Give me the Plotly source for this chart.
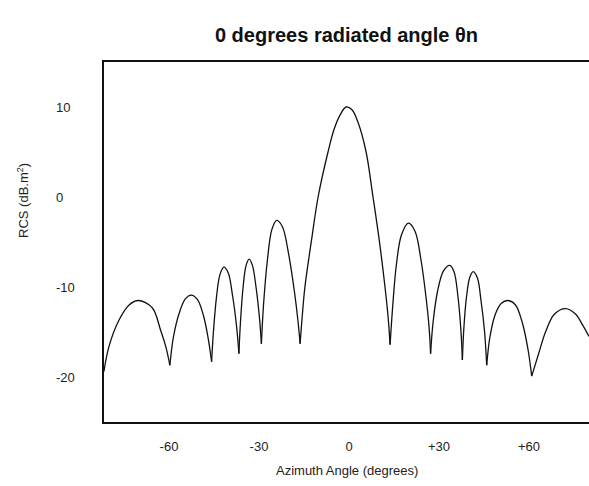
import plotly.graph_objects as go

# ---- data ----
angle_deg = [
    -81.7, -80.0, -76.7, -73.3, -70.2, -65.6, -62.8, -61.1, -59.7,
    -58.5, -56.5, -54.5, -52.6, -50.5, -48.5, -47.0, -45.8,
    -45.2, -44.2, -43.0, -41.7, -40.3, -38.8, -37.5, -36.7,
    -36.2, -35.3, -34.3, -33.3, -32.2, -31.0, -29.8, -29.2,
    -28.5, -27.2, -25.7, -24.1, -22.2, -20.2, -18.2, -17.0, -16.3,
    -15.6, -14.7, -12.5, -10.3, -7.0, -5.0, -3.0, -1.0, 1.0, 3.0, 5.7, 8.0, 10.0, 12.0, 13.0, 13.7,
    14.6, 15.8, 17.5, 19.8, 22.0, 24.0, 25.8, 26.7, 27.2,
    28.0, 29.5, 31.5, 33.6, 35.0, 36.3, 37.3, 37.8,
    38.3, 39.2, 40.3, 41.4, 42.8, 44.0, 45.2, 45.9,
    47.0, 48.8, 50.8, 53.0, 55.5, 57.8, 59.7, 60.9,
    63.3, 65.5, 68.5, 72.2, 75.5, 78.0, 80.0,
]
rcs_db = [
    -19.4, -16.6, -13.7, -12.0, -11.5, -12.3, -14.8, -16.6, -18.7,
    -15.5, -12.8, -11.3, -10.9, -11.4, -13.2, -15.6, -18.3,
    -15.0, -11.2, -8.6, -7.8, -8.4, -11.0, -14.3, -17.4,
    -14.0, -10.0, -7.6, -6.9, -7.6, -10.0, -13.6, -16.3,
    -12.0, -7.0, -3.6, -2.6, -3.3, -6.2, -10.5, -13.8, -16.3,
    -13.3, -10.0, -4.8, 0.0, 5.0, 7.5, 9.1, 10.0, 9.7, 8.3, 5.0, 0.0, -4.6, -10.0, -13.2, -16.4,
    -12.0, -7.5, -4.2, -2.9, -3.8, -7.0, -11.5, -14.5, -17.4,
    -14.0, -10.5, -8.2, -7.6, -8.3, -11.0, -14.8, -18.1,
    -14.5, -11.0, -8.9, -8.3, -9.0, -11.5, -15.0, -18.7,
    -15.5, -13.0, -11.8, -11.5, -12.0, -14.0, -17.0, -19.9,
    -17.3, -15.0, -13.0, -12.4, -13.0, -14.3, -15.5,
]
null_angles = [-59.7, -45.8, -36.7, -29.2, -16.3, 13.7, 27.2, 37.8, 45.9, 60.9]

x_tickvals = [-60, -30, 0, 30, 60]
x_ticktext = ["-60", "-30", "0", "+30", "+60"]
y_tickvals = [10, 0, -10, -20]
y_ticktext = ["10", "0", "-10", "-20"]

# split the curve into lobes at the nulls (cusps), each lobe smoothed separately
xs, ys = [], []
for a, r in zip(angle_deg, rcs_db):
    xs.append(a)
    ys.append(r)
    if a in null_angles:
        xs.extend([None, a])
        ys.extend([None, r])

FONT = "Liberation Sans, Arial, sans-serif"

fig = go.Figure()
fig.add_trace(go.Scatter(
    x=xs, y=ys, mode="lines",
    line=dict(color="#111111", width=1.3, shape="spline", smoothing=1.0),
    connectgaps=False, showlegend=False, hoverinfo="skip",
))

annotations = []
for v, t in zip(y_tickvals, y_ticktext):
    annotations.append(dict(
        x=-0.103, xref="paper", y=v, yref="y", text=t, showarrow=False,
        xanchor="left", yanchor="middle",
        font=dict(family=FONT, size=13, color="#222222"),
    ))
annotations.append(dict(
    x=-0.167, xref="paper", y=0.614, yref="paper",
    text="RCS (dB.m<sup>2</sup>)", showarrow=False, textangle=-90,
    xanchor="center", yanchor="middle",
    font=dict(family=FONT, size=13, color="#222222"),
))
annotations.append(dict(
    x=0.5, xref="paper", y=-(470 - 422) / 360, yref="paper",
    text="Azimuth Angle (degrees)", showarrow=False,
    xanchor="center", yanchor="middle",
    font=dict(family=FONT, size=13, color="#222222"),
))

fig.update_layout(
    width=589, height=486,
    margin=dict(l=104, r=0, t=62, b=64),
    paper_bgcolor="white", plot_bgcolor="white",
    title=dict(
        text="<b>0 degrees radiated angle θn</b>",
        x=0.5, xref="paper", xanchor="center",
        y=1 - 35 / 486, yref="container", yanchor="middle",
        font=dict(family=FONT, size=20, color="#111111"),
    ),
    annotations=annotations,
)
fig.update_xaxes(
    range=[-81.67, 80.0], tickvals=x_tickvals, ticktext=x_ticktext,
    showgrid=False, zeroline=False, ticks="",
    showline=True, linecolor="#111111", linewidth=1.5, mirror=True,
    tickfont=dict(family=FONT, size=13, color="#222222"),
    ticklabelstandoff=12,
)
fig.update_yaxes(
    range=[-25, 15], tickvals=y_tickvals, showticklabels=False,
    showgrid=False, zeroline=False, ticks="",
    showline=True, linecolor="#111111", linewidth=1.5, mirror=False,
)

fig.write_html("out.html")
